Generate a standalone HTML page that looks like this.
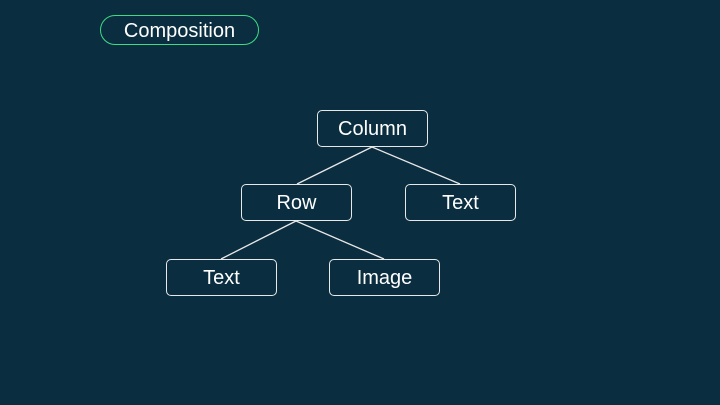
<!DOCTYPE html>
<html><head><style>
body{margin:0;width:720px;height:405px;background:#0a2e40;overflow:hidden;font-family:"Liberation Sans",sans-serif;}
.pill{position:absolute;left:100px;top:15px;width:157px;height:28px;border:1px solid #3ddc84;border-radius:15px;color:#fff;font-size:20px;text-align:center;line-height:30px;}
.n{position:absolute;width:109px;height:35px;border:1px solid #e8e8e8;border-radius:5px;color:#fff;font-size:20px;text-align:center;line-height:37px;box-sizing:content-box;}
</style></head><body>
<div class="pill">Composition</div>
<svg width="720" height="405" style="position:absolute;left:0;top:0">
<g stroke="#e8e8e8" stroke-width="1.3">
<line x1="372" y1="147" x2="297" y2="184"/>
<line x1="372" y1="147" x2="460" y2="184"/>
<line x1="296" y1="221" x2="221" y2="259"/>
<line x1="296" y1="221" x2="384" y2="259"/>
</g></svg>
<div class="n" style="left:317px;top:110px">Column</div>
<div class="n" style="left:241px;top:184px">Row</div>
<div class="n" style="left:405px;top:184px">Text</div>
<div class="n" style="left:166px;top:259px">Text</div>
<div class="n" style="left:329px;top:259px">Image</div>
</body></html>
